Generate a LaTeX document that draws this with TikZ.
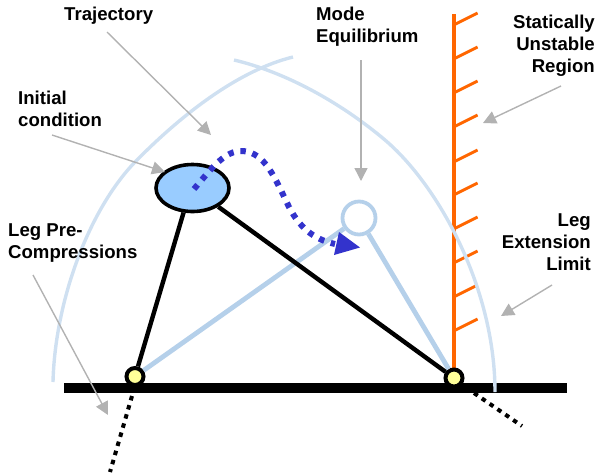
\documentclass[tikz,border=0pt]{standalone}
\usepackage{fontspec}
\setmainfont{Liberation Sans}
\usetikzlibrary{arrows.meta,shapes.geometric}
\definecolor{arcblue}{HTML}{CFE0F1}
\definecolor{legblue}{HTML}{B5D0EA}
\definecolor{grayarrow}{HTML}{B2B2B2}
\definecolor{hatchorange}{HTML}{FF6600}
\definecolor{trajblue}{HTML}{3333CC}
\definecolor{massblue}{HTML}{99CCFF}
\definecolor{pivotyellow}{HTML}{FFFF99}
\tikzset{
  lbl/.style={font=\bfseries\fontsize{18.6}{22}\selectfont,inner sep=0pt},
  lbll/.style={lbl,align=left,anchor=north west},
  lblr/.style={lbl,align=right,anchor=north east},
  callout/.style={draw=grayarrow,line width=1.4pt,-{Triangle[length=13pt,width=13pt]}},
  reach/.style={draw=arcblue,line width=3.4pt},
  legblack/.style={draw=black,line width=4.4pt},
  legmode/.style={draw=legblue,line width=4.8pt},
  dotleg/.style={draw=black,line width=4pt,dash pattern=on 4.5pt off 5pt},
  hatch/.style={draw=hatchorange,line width=2.9pt},
  pivot/.style={circle,draw=black,fill=pivotyellow,line width=4pt,minimum size=17pt,inner sep=0pt}
}
\begin{document}
\begin{tikzpicture}[x=1pt,y=-1pt]
\useasboundingbox (0,0) rectangle (596,475);
% ground
\fill[black] (64,383) rectangle (567,393);
% hatched wall
\coordinate (ptop) at (453.5,14);
\coordinate (pbot) at (453.5,372);
\draw[hatch,line width=4pt] (ptop) -- (pbot);
\foreach \y in {25,59,93,127,162,195,229,263,297,331}
  \draw[hatch] (453.5,\y) -- ++(24,-12);
% reach arcs
\draw[reach] (53,382) .. controls (55,300) and (90,205) .. (140,157) .. controls (185,112) and (240,70) .. (293,57);
\draw[reach] (234,60) .. controls (285,72) and (340,102) .. (385,140) .. controls (440,187) and (495,290) .. (495,392);
% named parts
\node[circle,draw=legblue,line width=3.8pt,minimum size=33pt,inner sep=0pt] (mode) at (359,218) {};
\node[pivot] (pa) at (135,376.5) {};
\node[pivot] (pb) at (454,378) {};
\node[ellipse,draw=black,fill=massblue,line width=3.6pt,minimum width=73pt,minimum height=47pt,inner sep=0pt] (mass) at (192.5,188) {};
% legs
\draw[legmode] (pa) -- (mode);
\draw[legmode] (mode) -- (pb);
\draw[legblack] (mass.250) -- (pa);
\draw[legblack] (mass) -- (pb);
% dotted extensions
\coordinate (da) at (110,472);
\coordinate (db) at (522,426);
\draw[dotleg] (132,396) -- (da);
\draw[dotleg] (474,393) -- (db);
% trajectory
\coordinate (tstart) at (194,189);
\coordinate (tend) at (335,244);
\draw[trajblue,line width=6pt,dash pattern=on 5.5pt off 6.8pt] (tstart) .. controls (212,168) and (225,150) .. (243,151) .. controls (265,153) and (274,176) .. (289,207) .. controls (299,226) and (312,239) .. (tend);
\fill[trajblue] (360,247.5) -- (339,232) -- (334,255) -- cycle;
% labels
\node[lbll] (t1) at (64,7) {Trajectory};
\node[lbll] (t2) at (18,91) {Initial\\condition};
\node[lbll] (t3) at (316,7) {Mode\\Equilibrium};
\node[lblr] (t4) at (595,15) {Statically\\Unstable\\Region};
\node[lblr] (t5) at (591,213) {Leg\\Extension\\Limit};
\node[lbll] (t6) at (8,223) {Leg Pre-\\Compressions};
% callouts
\coordinate (c1) at (211,135);
\coordinate (c2) at (165,172);
\coordinate (c3) at (361,181);
\coordinate (c4) at (483,123);
\coordinate (c5) at (501,316);
\coordinate (c6) at (108,415);
\draw[callout] (107,32) -- (c1);
\draw[callout] (52,135) -- (c2);
\draw[callout] (361,60) -- (c3);
\draw[callout] (561,86) -- (c4);
\draw[callout] (552,285) -- (c5);
\draw[callout] (33,275) -- (c6);
\end{tikzpicture}
\end{document}
